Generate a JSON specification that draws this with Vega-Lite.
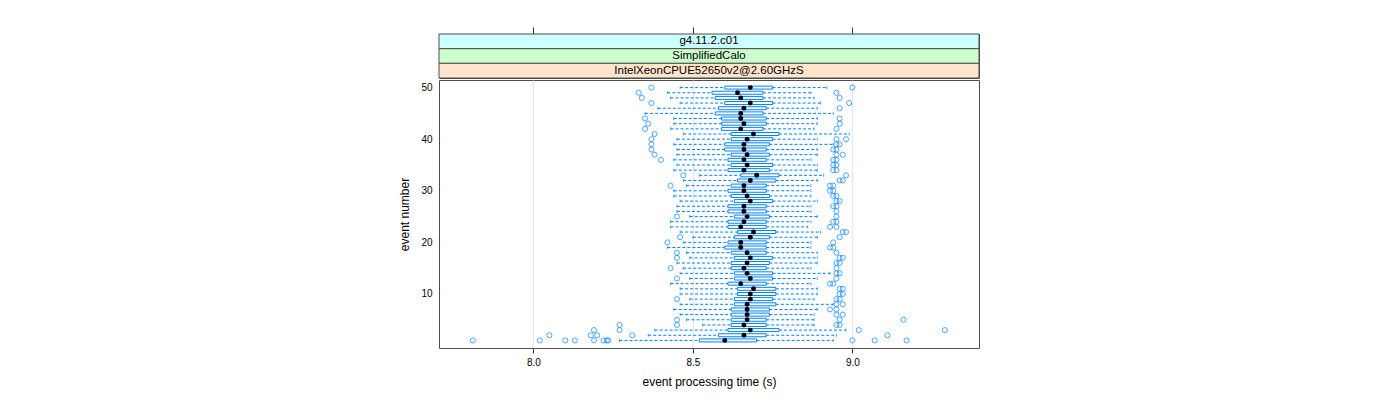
{
  "$schema": "https://vega.github.io/schema/vega-lite/v6.json",
  "background": "white",
  "padding": {"left": 398, "top": 26, "right": 5, "bottom": 5},
  "spacing": 0,
  "config": {
    "font": "Liberation Sans",
    "view": {"stroke": "#4d4d4d", "strokeWidth": 1},
    "axis": {"labelFont": "Liberation Sans", "titleFont": "Liberation Sans", "labelColor": "black", "titleColor": "black", "titleFontWeight": "normal", "labelFontSize": 10, "titleFontSize": 12, "tickColor": "#333333"}
  },
  "datasets": {
    "strips": [
      {"label": "g4.11.2.c01"},
      {"label": "SimplifiedCalo"},
      {"label": "IntelXeonCPUE52650v2@2.60GHzS"}
    ],
    "boxes": [
      {"event": 1, "lo": 8.27, "q1": 8.52, "med": 8.60, "q3": 8.70, "hi": 8.94},
      {"event": 2, "lo": 8.36, "q1": 8.58, "med": 8.66, "q3": 8.73, "hi": 8.95},
      {"event": 3, "lo": 8.38, "q1": 8.61, "med": 8.68, "q3": 8.77, "hi": 8.98},
      {"event": 4, "lo": 8.53, "q1": 8.62, "med": 8.66, "q3": 8.73, "hi": 8.88},
      {"event": 5, "lo": 8.48, "q1": 8.62, "med": 8.67, "q3": 8.73, "hi": 8.88},
      {"event": 6, "lo": 8.46, "q1": 8.62, "med": 8.67, "q3": 8.74, "hi": 8.88},
      {"event": 7, "lo": 8.44, "q1": 8.62, "med": 8.67, "q3": 8.74, "hi": 8.89},
      {"event": 8, "lo": 8.46, "q1": 8.63, "med": 8.67, "q3": 8.76, "hi": 8.94},
      {"event": 9, "lo": 8.49, "q1": 8.63, "med": 8.68, "q3": 8.75, "hi": 8.88},
      {"event": 10, "lo": 8.46, "q1": 8.64, "med": 8.68, "q3": 8.76, "hi": 8.89},
      {"event": 11, "lo": 8.46, "q1": 8.64, "med": 8.69, "q3": 8.76, "hi": 8.89},
      {"event": 12, "lo": 8.43, "q1": 8.61, "med": 8.65, "q3": 8.73, "hi": 8.87},
      {"event": 13, "lo": 8.49, "q1": 8.63, "med": 8.68, "q3": 8.75, "hi": 8.89},
      {"event": 14, "lo": 8.46, "q1": 8.63, "med": 8.67, "q3": 8.75, "hi": 8.93},
      {"event": 15, "lo": 8.47, "q1": 8.62, "med": 8.66, "q3": 8.73, "hi": 8.87},
      {"event": 16, "lo": 8.45, "q1": 8.62, "med": 8.67, "q3": 8.74, "hi": 8.89},
      {"event": 17, "lo": 8.49, "q1": 8.63, "med": 8.68, "q3": 8.75, "hi": 8.89},
      {"event": 18, "lo": 8.48, "q1": 8.62, "med": 8.67, "q3": 8.73, "hi": 8.89},
      {"event": 19, "lo": 8.42, "q1": 8.60, "med": 8.65, "q3": 8.73, "hi": 8.87},
      {"event": 20, "lo": 8.47, "q1": 8.61, "med": 8.65, "q3": 8.73, "hi": 8.87},
      {"event": 21, "lo": 8.50, "q1": 8.63, "med": 8.68, "q3": 8.74, "hi": 8.89},
      {"event": 22, "lo": 8.46, "q1": 8.64, "med": 8.69, "q3": 8.76, "hi": 8.90},
      {"event": 23, "lo": 8.43, "q1": 8.61, "med": 8.65, "q3": 8.73, "hi": 8.86},
      {"event": 24, "lo": 8.43, "q1": 8.61, "med": 8.66, "q3": 8.73, "hi": 8.87},
      {"event": 25, "lo": 8.49, "q1": 8.63, "med": 8.67, "q3": 8.74, "hi": 8.89},
      {"event": 26, "lo": 8.45, "q1": 8.61, "med": 8.66, "q3": 8.73, "hi": 8.87},
      {"event": 27, "lo": 8.45, "q1": 8.61, "med": 8.66, "q3": 8.73, "hi": 8.87},
      {"event": 28, "lo": 8.46, "q1": 8.63, "med": 8.68, "q3": 8.75, "hi": 8.89},
      {"event": 29, "lo": 8.44, "q1": 8.62, "med": 8.67, "q3": 8.74, "hi": 8.87},
      {"event": 30, "lo": 8.44, "q1": 8.61, "med": 8.66, "q3": 8.73, "hi": 8.87},
      {"event": 31, "lo": 8.48, "q1": 8.62, "med": 8.66, "q3": 8.73, "hi": 8.87},
      {"event": 32, "lo": 8.47, "q1": 8.64, "med": 8.68, "q3": 8.76, "hi": 8.89},
      {"event": 33, "lo": 8.52, "q1": 8.65, "med": 8.70, "q3": 8.77, "hi": 8.91},
      {"event": 34, "lo": 8.44, "q1": 8.61, "med": 8.66, "q3": 8.74, "hi": 8.89},
      {"event": 35, "lo": 8.45, "q1": 8.62, "med": 8.67, "q3": 8.75, "hi": 8.89},
      {"event": 36, "lo": 8.44, "q1": 8.61, "med": 8.66, "q3": 8.73, "hi": 8.87},
      {"event": 37, "lo": 8.45, "q1": 8.62, "med": 8.67, "q3": 8.74, "hi": 8.89},
      {"event": 38, "lo": 8.45, "q1": 8.60, "med": 8.66, "q3": 8.73, "hi": 8.89},
      {"event": 39, "lo": 8.44, "q1": 8.60, "med": 8.66, "q3": 8.74, "hi": 8.94},
      {"event": 40, "lo": 8.45, "q1": 8.62, "med": 8.67, "q3": 8.75, "hi": 8.89},
      {"event": 41, "lo": 8.47, "q1": 8.62, "med": 8.69, "q3": 8.77, "hi": 8.99},
      {"event": 42, "lo": 8.43, "q1": 8.59, "med": 8.65, "q3": 8.72, "hi": 8.88},
      {"event": 43, "lo": 8.44, "q1": 8.59, "med": 8.66, "q3": 8.73, "hi": 8.89},
      {"event": 44, "lo": 8.44, "q1": 8.59, "med": 8.65, "q3": 8.73, "hi": 8.89},
      {"event": 45, "lo": 8.35, "q1": 8.57, "med": 8.65, "q3": 8.72, "hi": 8.94},
      {"event": 46, "lo": 8.39, "q1": 8.58, "med": 8.66, "q3": 8.73, "hi": 8.89},
      {"event": 47, "lo": 8.46, "q1": 8.60, "med": 8.68, "q3": 8.75, "hi": 8.90},
      {"event": 48, "lo": 8.43, "q1": 8.57, "med": 8.65, "q3": 8.72, "hi": 8.88},
      {"event": 49, "lo": 8.42, "q1": 8.56, "med": 8.64, "q3": 8.72, "hi": 8.87},
      {"event": 50, "lo": 8.46, "q1": 8.60, "med": 8.68, "q3": 8.75, "hi": 8.92}
    ],
    "outliers": [
      {"event": 1, "t": 7.81}, {"event": 1, "t": 8.02}, {"event": 1, "t": 8.10}, {"event": 1, "t": 8.13}, {"event": 1, "t": 8.19}, {"event": 1, "t": 8.22}, {"event": 1, "t": 8.23}, {"event": 1, "t": 8.235}, {"event": 1, "t": 9.00}, {"event": 1, "t": 9.07}, {"event": 1, "t": 9.17},
      {"event": 2, "t": 8.05}, {"event": 2, "t": 8.18}, {"event": 2, "t": 8.20}, {"event": 2, "t": 8.31}, {"event": 2, "t": 9.11},
      {"event": 3, "t": 8.19}, {"event": 3, "t": 8.27}, {"event": 3, "t": 9.02}, {"event": 3, "t": 9.29},
      {"event": 4, "t": 8.27}, {"event": 4, "t": 8.45}, {"event": 4, "t": 8.95}, {"event": 4, "t": 8.96},
      {"event": 5, "t": 8.45}, {"event": 5, "t": 8.96}, {"event": 5, "t": 9.16},
      {"event": 6, "t": 8.95}, {"event": 6, "t": 8.97},
      {"event": 7, "t": 8.93}, {"event": 7, "t": 8.95},
      {"event": 8, "t": 8.95}, {"event": 8, "t": 8.97},
      {"event": 9, "t": 8.45}, {"event": 9, "t": 8.95}, {"event": 9, "t": 8.96},
      {"event": 10, "t": 8.96}, {"event": 10, "t": 8.97},
      {"event": 11, "t": 8.96}, {"event": 11, "t": 8.97},
      {"event": 12, "t": 8.93}, {"event": 12, "t": 8.94},
      {"event": 13, "t": 8.45}, {"event": 13, "t": 8.95},
      {"event": 14, "t": 8.95}, {"event": 14, "t": 8.96},
      {"event": 15, "t": 8.43}, {"event": 15, "t": 8.95},
      {"event": 16, "t": 8.95}, {"event": 16, "t": 8.96},
      {"event": 17, "t": 8.45}, {"event": 17, "t": 8.96}, {"event": 17, "t": 8.97},
      {"event": 18, "t": 8.45}, {"event": 18, "t": 8.95},
      {"event": 19, "t": 8.93}, {"event": 19, "t": 8.94},
      {"event": 20, "t": 8.42}, {"event": 20, "t": 8.94},
      {"event": 21, "t": 8.46}, {"event": 21, "t": 8.96},
      {"event": 22, "t": 8.97}, {"event": 22, "t": 8.98},
      {"event": 23, "t": 8.93}, {"event": 23, "t": 8.95},
      {"event": 24, "t": 8.94}, {"event": 24, "t": 8.95},
      {"event": 25, "t": 8.45}, {"event": 25, "t": 8.95},
      {"event": 26, "t": 8.95},
      {"event": 27, "t": 8.94}, {"event": 27, "t": 8.95},
      {"event": 28, "t": 8.95}, {"event": 28, "t": 8.96},
      {"event": 29, "t": 8.94}, {"event": 29, "t": 8.95},
      {"event": 30, "t": 8.93}, {"event": 30, "t": 8.94},
      {"event": 31, "t": 8.43}, {"event": 31, "t": 8.93}, {"event": 31, "t": 8.94},
      {"event": 32, "t": 8.96}, {"event": 32, "t": 8.97},
      {"event": 33, "t": 8.47}, {"event": 33, "t": 8.98},
      {"event": 34, "t": 8.94}, {"event": 34, "t": 8.95},
      {"event": 35, "t": 8.94}, {"event": 35, "t": 8.95},
      {"event": 36, "t": 8.40}, {"event": 36, "t": 8.94}, {"event": 36, "t": 8.95},
      {"event": 37, "t": 8.38}, {"event": 37, "t": 8.95}, {"event": 37, "t": 8.97},
      {"event": 38, "t": 8.37}, {"event": 38, "t": 8.94}, {"event": 38, "t": 8.95},
      {"event": 39, "t": 8.37}, {"event": 39, "t": 8.95}, {"event": 39, "t": 8.96},
      {"event": 40, "t": 8.37}, {"event": 40, "t": 8.95}, {"event": 40, "t": 8.98},
      {"event": 41, "t": 8.38},
      {"event": 42, "t": 8.35}, {"event": 42, "t": 8.95},
      {"event": 43, "t": 8.36}, {"event": 43, "t": 8.96},
      {"event": 44, "t": 8.35}, {"event": 44, "t": 8.96},
      {"event": 46, "t": 8.96},
      {"event": 47, "t": 8.37}, {"event": 47, "t": 8.99},
      {"event": 48, "t": 8.34}, {"event": 48, "t": 8.96},
      {"event": 49, "t": 8.33}, {"event": 49, "t": 8.95},
      {"event": 50, "t": 8.37}, {"event": 50, "t": 9.00}
    ]
  },
  "vconcat": [
    {
      "width": 540,
      "height": 44,
      "data": {"name": "strips"},
      "encoding": {
        "y": {"field": "label", "type": "nominal", "sort": ["g4.11.2.c01", "SimplifiedCalo", "IntelXeonCPUE52650v2@2.60GHzS"], "axis": null, "scale": {"paddingInner": 0, "paddingOuter": 0}}
      },
      "layer": [
        {
          "mark": {"type": "rect", "stroke": "#4d4d4d", "strokeWidth": 1},
          "encoding": {
            "x": {"datum": 7.704, "type": "quantitative", "scale": {"domain": [7.704, 9.397], "nice": false, "zero": false}, "axis": {"orient": "top", "values": [8, 8.5, 9], "labels": false, "domain": false, "grid": false, "tickSize": 7, "title": null}},
            "x2": {"datum": 9.397},
            "fill": {"field": "label", "type": "nominal", "scale": {"domain": ["g4.11.2.c01", "SimplifiedCalo", "IntelXeonCPUE52650v2@2.60GHzS"], "range": ["#ccffff", "#ccffcc", "#ffe5cc"]}, "legend": null}
          }
        },
        {
          "mark": {"type": "text", "fontSize": 11.5, "font": "Liberation Sans", "color": "black", "baseline": "middle"},
          "encoding": {"text": {"field": "label", "type": "nominal"}}
        }
      ]
    },
    {
      "width": 540,
      "height": 268,
      "encoding": {
        "y": {"field": "event", "type": "quantitative", "scale": {"domain": [0.5, 50.5], "nice": false, "zero": false}, "axis": {"values": [10, 20, 30, 40, 50], "title": "event number", "ticks": false, "labelPadding": 7, "titlePadding": 9, "domain": false, "grid": false}}
      },
      "layer": [
        {
          "data": {"name": "boxes"},
          "mark": {"type": "rule", "color": "#0080ff", "strokeDash": [3, 2], "strokeWidth": 1},
          "encoding": {
            "x": {"field": "lo", "type": "quantitative", "scale": {"domain": [7.704, 9.397], "nice": false, "zero": false}, "axis": {"values": [8, 8.5, 9], "format": ".1f", "title": "event processing time (s)", "grid": true, "gridColor": "#e6e6e6", "tickSize": 5, "labelPadding": 4, "titlePadding": 9, "domain": false}},
            "x2": {"field": "q1"}
          }
        },
        {
          "data": {"name": "boxes"},
          "mark": {"type": "rule", "color": "#0080ff", "strokeDash": [3, 2], "strokeWidth": 1},
          "encoding": {"x": {"field": "q3", "type": "quantitative"}, "x2": {"field": "hi"}}
        },
        {
          "data": {"name": "boxes"},
          "mark": {"type": "tick", "orient": "vertical", "color": "#0080ff", "size": 3, "thickness": 1},
          "encoding": {"x": {"field": "lo", "type": "quantitative"}}
        },
        {
          "data": {"name": "boxes"},
          "mark": {"type": "tick", "orient": "vertical", "color": "#0080ff", "size": 3, "thickness": 1},
          "encoding": {"x": {"field": "hi", "type": "quantitative"}}
        },
        {
          "data": {"name": "boxes"},
          "mark": {"type": "bar", "orient": "horizontal", "size": 3, "fill": "white", "stroke": "#0080ff", "strokeWidth": 1},
          "encoding": {"x": {"field": "q1", "type": "quantitative"}, "x2": {"field": "q3"}}
        },
        {
          "data": {"name": "outliers"},
          "mark": {"type": "point", "shape": "circle", "filled": false, "color": "#0080ff", "size": 26, "strokeWidth": 1},
          "encoding": {"x": {"field": "t", "type": "quantitative"}}
        },
        {
          "data": {"name": "boxes"},
          "mark": {"type": "point", "shape": "circle", "filled": true, "color": "black", "opacity": 1, "size": 24},
          "encoding": {"x": {"field": "med", "type": "quantitative"}}
        }
      ]
    }
  ]
}
